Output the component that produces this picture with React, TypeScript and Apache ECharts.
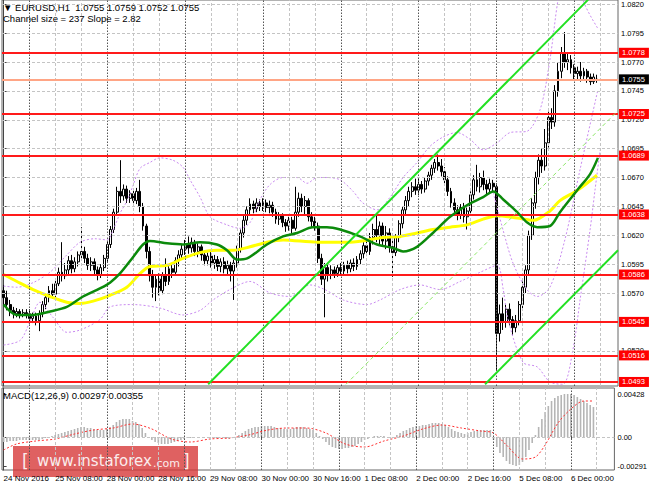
import React, { useEffect, useRef } from "react";
import * as echarts from "echarts";

const FONT = "'Liberation Sans', Arial, sans-serif";
const SLOT_COUNT = 190;
const Y_MIN = 1.04895;
const Y_MAX = 1.08237;
const MACD_MIN = -0.0033;
const MACD_MAX = 0.0049;

// [open, close, low, high] per H1 bar, 24 Nov 16:00 .. 6 Dec 07:00
const candles: number[][] = [
  [1.0572,1.0566,1.0560,1.0577],[1.0566,1.0560,1.0555,1.0572],[1.0560,1.0555,1.0550,1.0564],[1.0555,1.0552,1.0548,1.0558],
  [1.0552,1.0554,1.0549,1.0557],[1.0554,1.0551,1.0548,1.0556],[1.0551,1.0553,1.0549,1.0556],[1.0553,1.0552,1.0548,1.0556],
  [1.0552,1.0548,1.0543,1.0556],[1.0548,1.0550,1.0544,1.0553],[1.0550,1.0546,1.0542,1.0553],[1.0546,1.0552,1.0537,1.0555],
  [1.0552,1.0560,1.0549,1.0563],[1.0560,1.0566,1.0556,1.0569],[1.0566,1.0572,1.0562,1.0576],[1.0572,1.0569,1.0565,1.0578],
  [1.0569,1.0578,1.0566,1.0581],[1.0578,1.0588,1.0576,1.0592],[1.0588,1.0585,1.0580,1.0614],[1.0585,1.0590,1.0582,1.0596],
  [1.0590,1.0598,1.0586,1.0602],[1.0598,1.0591,1.0587,1.0603],[1.0591,1.0597,1.0588,1.0601],[1.0597,1.0603,1.0593,1.0606],
  [1.0603,1.0606,1.0598,1.0627],[1.0606,1.0600,1.0596,1.0610],[1.0600,1.0594,1.0590,1.0604],[1.0594,1.0597,1.0589,1.0601],
  [1.0597,1.0590,1.0586,1.0600],[1.0590,1.0586,1.0581,1.0593],[1.0586,1.0592,1.0583,1.0595],[1.0592,1.0600,1.0589,1.0603],
  [1.0600,1.0612,1.0597,1.0615],[1.0612,1.0625,1.0609,1.0628],[1.0625,1.0640,1.0622,1.0643],[1.0640,1.0658,1.0637,1.0662],
  [1.0658,1.0654,1.0648,1.0685],[1.0654,1.0660,1.0650,1.0664],[1.0660,1.0652,1.0648,1.0663],[1.0652,1.0656,1.0648,1.0659],
  [1.0656,1.0650,1.0645,1.0660],[1.0650,1.0658,1.0647,1.0661],[1.0658,1.0645,1.0640,1.0668],[1.0645,1.0628,1.0624,1.0648],
  [1.0628,1.0606,1.0600,1.0630],[1.0606,1.0585,1.0580,1.0610],[1.0585,1.0575,1.0566,1.0590],[1.0575,1.0582,1.0563,1.0586],
  [1.0582,1.0572,1.0568,1.0587],[1.0572,1.0585,1.0569,1.0588],[1.0585,1.0580,1.0576,1.0600],[1.0580,1.0591,1.0577,1.0595],
  [1.0591,1.0588,1.0583,1.0596],[1.0588,1.0598,1.0585,1.0601],[1.0598,1.0603,1.0593,1.0607],[1.0603,1.0608,1.0599,1.0612],
  [1.0608,1.0612,1.0603,1.0616],[1.0612,1.0609,1.0604,1.0619],[1.0609,1.0614,1.0605,1.0618],[1.0614,1.0606,1.0602,1.0616],
  [1.0606,1.0610,1.0601,1.0613],[1.0610,1.0603,1.0598,1.0612],[1.0603,1.0598,1.0594,1.0607],[1.0598,1.0602,1.0594,1.0605],
  [1.0602,1.0596,1.0592,1.0606],[1.0596,1.0599,1.0591,1.0603],[1.0599,1.0593,1.0589,1.0602],[1.0593,1.0597,1.0588,1.0600],
  [1.0597,1.0591,1.0587,1.0601],[1.0591,1.0594,1.0585,1.0598],[1.0594,1.0589,1.0580,1.0597],[1.0589,1.0596,1.0564,1.0599],
  [1.0596,1.0608,1.0592,1.0611],[1.0608,1.0622,1.0605,1.0625],[1.0622,1.0633,1.0618,1.0637],[1.0633,1.0642,1.0629,1.0645],
  [1.0642,1.0647,1.0638,1.0652],[1.0647,1.0643,1.0639,1.0650],[1.0643,1.0648,1.0640,1.0652],[1.0648,1.0645,1.0641,1.0651],
  [1.0645,1.0648,1.0641,1.0652],[1.0648,1.0644,1.0640,1.0651],[1.0644,1.0646,1.0639,1.0650],[1.0646,1.0640,1.0636,1.0649],
  [1.0640,1.0634,1.0630,1.0643],[1.0634,1.0637,1.0629,1.0640],[1.0637,1.0631,1.0627,1.0639],[1.0631,1.0628,1.0623,1.0634],
  [1.0628,1.0633,1.0624,1.0636],[1.0633,1.0626,1.0622,1.0636],[1.0626,1.0640,1.0624,1.0662],[1.0640,1.0652,1.0636,1.0657],
  [1.0652,1.0645,1.0640,1.0656],[1.0645,1.0650,1.0638,1.0654],[1.0650,1.0636,1.0632,1.0652],[1.0636,1.0632,1.0627,1.0640],
  [1.0632,1.0628,1.0624,1.0636],[1.0628,1.0600,1.0596,1.0631],[1.0600,1.0582,1.0577,1.0604],[1.0582,1.0592,1.0549,1.0596],
  [1.0592,1.0586,1.0580,1.0595],[1.0586,1.0590,1.0582,1.0594],[1.0590,1.0587,1.0583,1.0593],[1.0587,1.0592,1.0584,1.0595],
  [1.0592,1.0589,1.0585,1.0596],[1.0589,1.0594,1.0586,1.0597],[1.0594,1.0591,1.0587,1.0598],[1.0591,1.0596,1.0588,1.0599],
  [1.0596,1.0593,1.0589,1.0600],[1.0593,1.0599,1.0590,1.0602],[1.0599,1.0604,1.0595,1.0607],[1.0604,1.0611,1.0600,1.0614],
  [1.0611,1.0606,1.0602,1.0617],[1.0606,1.0618,1.0603,1.0622],[1.0618,1.0625,1.0612,1.0630],[1.0625,1.0620,1.0614,1.0638],
  [1.0620,1.0628,1.0611,1.0632],[1.0628,1.0615,1.0610,1.0631],[1.0615,1.0622,1.0608,1.0628],[1.0622,1.0610,1.0605,1.0626],
  [1.0610,1.0605,1.0584,1.0616],[1.0605,1.0618,1.0602,1.0621],[1.0618,1.0630,1.0614,1.0633],[1.0630,1.0642,1.0626,1.0645],
  [1.0642,1.0650,1.0637,1.0654],[1.0650,1.0658,1.0645,1.0662],[1.0658,1.0662,1.0653,1.0666],[1.0662,1.0659,1.0655,1.0669],
  [1.0659,1.0664,1.0655,1.0669],[1.0664,1.0660,1.0656,1.0667],[1.0660,1.0667,1.0657,1.0670],[1.0667,1.0672,1.0663,1.0675],
  [1.0672,1.0678,1.0668,1.0681],[1.0678,1.0683,1.0674,1.0686],[1.0683,1.0680,1.0676,1.0690],[1.0680,1.0675,1.0671,1.0686],
  [1.0675,1.0668,1.0664,1.0679],[1.0668,1.0658,1.0654,1.0671],[1.0658,1.0648,1.0644,1.0661],[1.0648,1.0642,1.0637,1.0652],
  [1.0642,1.0638,1.0633,1.0646],[1.0638,1.0644,1.0634,1.0647],[1.0644,1.0636,1.0631,1.0648],[1.0636,1.0641,1.0625,1.0644],
  [1.0641,1.0655,1.0638,1.0658],[1.0655,1.0668,1.0651,1.0672],[1.0668,1.0662,1.0658,1.0681],[1.0662,1.0670,1.0657,1.0674],
  [1.0670,1.0664,1.0659,1.0676],[1.0664,1.0660,1.0655,1.0668],[1.0660,1.0665,1.0656,1.0669],[1.0665,1.0662,1.0658,1.0668],
  [1.0662,1.0535,1.0503,1.0665],[1.0535,1.0552,1.0528,1.0560],[1.0552,1.0545,1.0538,1.0566],[1.0545,1.0556,1.0540,1.0560],
  [1.0556,1.0547,1.0542,1.0561],[1.0547,1.0540,1.0533,1.0550],[1.0540,1.0546,1.0536,1.0551],[1.0546,1.0560,1.0542,1.0563],
  [1.0560,1.0575,1.0556,1.0580],[1.0575,1.0590,1.0570,1.0594],[1.0590,1.0620,1.0586,1.0624],[1.0620,1.0648,1.0616,1.0652],
  [1.0648,1.0670,1.0643,1.0675],[1.0670,1.0685,1.0664,1.0690],[1.0685,1.0680,1.0674,1.0695],[1.0680,1.0700,1.0676,1.0712],
  [1.0700,1.0722,1.0696,1.0727],[1.0722,1.0718,1.0712,1.0730],[1.0718,1.0745,1.0714,1.0750],[1.0745,1.0762,1.0740,1.0770],
  [1.0762,1.0778,1.0756,1.0783],[1.0778,1.0770,1.0765,1.0796],[1.0770,1.0772,1.0763,1.0777],[1.0772,1.0765,1.0760,1.0776],
  [1.0765,1.0760,1.0755,1.0768],[1.0760,1.0762,1.0754,1.0766],[1.0762,1.0758,1.0753,1.0770],[1.0758,1.0762,1.0754,1.0765],
  [1.0762,1.0757,1.0752,1.0764],[1.0757,1.0753,1.0750,1.0760],[1.0753,1.0757,1.0751,1.0760],[1.0755,1.0755,1.0752,1.0759],
];

// [bar index, price]
const greenMA = [[0,1.0560],[4,1.0551],[9,1.0551],[14.3,1.0554],[19.5,1.0558],[24.5,1.0567],[29.7,1.0574],[32.8,1.0579],[35.9,1.0587],[39.9,1.0601],[43,1.0612],[45.1,1.0615],[50.4,1.0613],[55.3,1.0612],[60.6,1.0614],[65.8,1.0612],[68.9,1.0607],[72,1.0599],[75.1,1.0600],[81.2,1.0612],[86.2,1.0619],[90.5,1.0622],[95.4,1.0627],[99.7,1.0627],[103.8,1.0625],[109.9,1.0619],[115.2,1.0612],[120.1,1.0609],[123.2,1.0606],[127.5,1.0610],[132.4,1.0622],[137.7,1.0636],[142.9,1.0646],[147.9,1.0653],[151,1.0658],[154.1,1.0651],[158.4,1.0640],[161.5,1.0631],[164.6,1.0627],[168.5,1.0628],[171.6,1.0640],[177.2,1.0660],[180.9,1.0673],[183.3,1.0687]];
const yellowMA = [[0,1.0586],[4.1,1.0580],[9.1,1.0573],[14.3,1.0567],[19.5,1.0562],[23.6,1.0561],[27.6,1.0563],[32.8,1.0568],[38,1.0575],[42.1,1.0587],[45.1,1.0593],[50.4,1.0594],[55.3,1.0600],[60.6,1.0605],[65.8,1.0607],[70.8,1.0607],[76,1.0610],[81.2,1.0614],[86.2,1.0616],[96.7,1.0614],[106.8,1.0614],[117,1.0618],[122.3,1.0619],[127.5,1.0622],[132.4,1.0625],[137.7,1.0627],[142.9,1.0629],[147.9,1.0634],[152.2,1.0637],[158.4,1.0635],[163.4,1.0633],[168.5,1.0641],[171.6,1.0650],[177,1.0659],[183,1.0672]];
const bandUpper = [[0,1.0576],[4.1,1.0575],[9.1,1.0579],[14.3,1.0588],[19.5,1.0603],[23.6,1.0614],[28.2,1.0617],[31.9,1.0616],[33.7,1.0624],[35.9,1.0639],[38.1,1.0650],[39.9,1.0663],[42.1,1.0678],[45.1,1.0683],[48.2,1.0687],[52.2,1.0685],[55.3,1.0679],[57.5,1.0668],[60.6,1.0653],[63.7,1.0636],[68.9,1.0629],[72.9,1.0626],[76,1.0631],[79.1,1.0651],[82.2,1.0664],[86.2,1.0670],[90.5,1.0670],[93.6,1.0665],[96.7,1.0670],[99.7,1.0670],[103.8,1.0668],[107.8,1.0658],[110.8,1.0648],[115.2,1.0642],[119.2,1.0653],[123.2,1.0670],[127.5,1.0683],[131.5,1.0697],[135.5,1.0705],[139.8,1.0709],[143.9,1.0703],[147.9,1.0694],[152.2,1.0700],[156.3,1.0709],[161.4,1.0710],[165.5,1.0729],[168.5,1.0772],[171,1.0824],[173.5,1.0858],[176.6,1.0867],[178.7,1.0824],[183.3,1.0799]];
const bandLower = [[0,1.0525],[5.1,1.0529],[8.1,1.0545],[11.2,1.0562],[15.2,1.0549],[19.5,1.0536],[23.6,1.0538],[29.7,1.0547],[32.8,1.0558],[39.9,1.0560],[48.2,1.0557],[55.3,1.0551],[60.6,1.0555],[64.6,1.0564],[69.8,1.0573],[76,1.0580],[82.2,1.0570],[88.3,1.0567],[94.5,1.0577],[99.1,1.0573],[104.7,1.0564],[112.1,1.0560],[116.1,1.0564],[122.3,1.0573],[128.4,1.0577],[134.6,1.0573],[140.8,1.0580],[147,1.0588],[152.2,1.0594],[154.1,1.0573],[155.6,1.0547],[160.2,1.0510],[164.6,1.0506],[168.5,1.0493],[172.5,1.0491],[175.6,1.0521],[177.8,1.0564],[180.9,1.0625],[182.4,1.0659],[184,1.0694]];
const bandInner = [[151,1.0657],[154.1,1.0624],[157.1,1.0596],[161.4,1.0573],[164.6,1.0567],[168.5,1.0575],[173.1,1.0616],[177.8,1.0677],[183.3,1.0746]];

// regression channel (upper, centre, lower)
const channelUpper = [[63.1,1.0491],[180.3,1.0824]];
const channelMid = [[105.6,1.0491],[189.5,1.0728]];
const channelLower = [[148.5,1.0491],[189.5,1.0607]];

const levels = [1.0778, 1.0725, 1.0689, 1.0638, 1.0586, 1.0545, 1.0516, 1.0493];
const lastPrice = 1.0755;
const priceTicks = [1.0820, 1.0795, 1.0770, 1.0745, 1.0720, 1.0695, 1.0670, 1.0645, 1.0620, 1.0595, 1.0570, 1.0545, 1.0520];
const priceLabelTicks = [1.0820, 1.0795, 1.0770, 1.0745, 1.0720, 1.0695, 1.0670, 1.0645, 1.0620, 1.0595, 1.0570, 1.0520];

// MACD main (histogram) in units of 0.0001, one per bar
const macdHist = [
  -5,-5,-4,-4,-4,-3,-3,-3, -3,-3,-3,-3,-2,-1,0,1, 2,3,4,5,6,7,8,9, 10,10,9,9,8,7,7,7,
  8,10,12,15,17,18,18,18, 16,15,13,9,4,0,-3,-5, -6,-7,-7,-7,-6,-5,-4,-3, -2,-1,-1,0,0,0,0,0,
  0,0,-1,-1,-1,-1,-2,-1, 0,2,4,6,8,9,10,10, 11,11,11,11,10,9,9,8, 8,8,9,10,10,10,9,8,
  7,4,1,-2,-5,-8,-10,-11, -12,-12,-11,-11,-10,-9,-7,-5, -3,-2,0,1,1,1,1,0, -1,0,2,4,6,7,9,10,
  11,11,12,12,13,14,14,14, 13,12,10,8,6,5,4,3, 4,5,6,6,7,7,7,7, -3,-10,-16,-20,-24,-27,-28,-29,
  -28,-25,-20,-13,-6,2,10,18, 25,31,36,39,41,42,43,43, 43,42,40,38,36,34,32,30,
];
// MACD signal in units of 0.0001: [bar index, value]
const macdSignal = [[0,-13],[4,-7],[10,-4],[16,-2],[22,3],[28,7],[34,9],[40,13],[46,8],[52,-2],[58,-5],[64,-2],[70,-1],[76,2],[82,7],[88,9],[94,9],[100,4],[106,-7],[112,-10],[118,-4],[124,1],[130,8],[136,12],[142,9],[148,6],[152,4],[156,-8],[161,-22],[165,-20],[168,-8],[172,14],[176,28],[180,36],[183,36]];
const macdTicks = [0.00428, 0, -0.00291];

const xTickIdx = [0, 16, 32, 48, 64, 80, 96, 112, 128, 144, 160, 176];
const xTickText = ["24 Nov 2016", "25 Nov 08:00", "28 Nov 00:00", "28 Nov 16:00", "29 Nov 08:00", "30 Nov 00:00", "30 Nov 16:00", "1 Dec 08:00", "2 Dec 00:00", "2 Dec 16:00", "5 Dec 08:00", "6 Dec 00:00"];
const gridIdx = [16, 24, 40, 48, 64, 72, 88, 96, 112, 120, 136, 144, 160, 168, 184];
const daySepIdx = [8, 32, 56, 80, 104, 128, 152, 176];

export default function App() {
  const ref = useRef<HTMLDivElement>(null);
  useEffect(() => {
    if (!ref.current) return;
    const chart = echarts.init(ref.current, undefined, { renderer: "svg" });
    const cats = Array.from({ length: SLOT_COUNT }, (_, i) => String(i));
    const tickSet = new Set([...gridIdx, ...daySepIdx]);
    const vGrid = (xi: number, yi: number) => ({
      type: "line", xAxisIndex: xi, yAxisIndex: yi, data: [], silent: true, z: 1,
      markLine: {
        silent: true, symbol: ["none", "none"], label: { show: false }, precision: 6,
        data: [
          ...gridIdx.map((v) => ({ xAxis: v, lineStyle: { color: "#c4c4c4", type: [3, 2], width: 1 } })),
          ...daySepIdx.map((v) => ({ xAxis: v, lineStyle: { color: "#555", type: [1.5, 1.5], width: 1 } })),
        ],
      },
    });
    const lineS = (data: number[][], color: string, width: number, type: any = "solid", z = 3, smooth: any = 0.3) => ({
      type: "line", xAxisIndex: 1, yAxisIndex: 0, data, showSymbol: false, smooth, silent: true, z,
      lineStyle: { color, width, type }, clip: true,
    });
    const redLabel = (bg: string) => ({
      show: true, position: "end", distance: 1, fontSize: 7.5, fontFamily: FONT, color: "#fff",
      backgroundColor: bg, padding: [1, 4, 1, 3], formatter: (p: any) => Number(p.value).toFixed(4),
    });
    const option: any = {
      animation: false,
      backgroundColor: "#fff",
      textStyle: { fontFamily: FONT },
      grid: [
        { left: 2, top: 0, width: 616, height: 386, show: true, borderColor: "#666", borderWidth: 1 },
        { left: 2, top: 388, width: 616, height: 82, show: true, borderColor: "#666", borderWidth: 1 },
      ],
      xAxis: [
        { type: "category", gridIndex: 0, data: cats, show: false, boundaryGap: true },
        { type: "value", gridIndex: 0, min: -0.5, max: SLOT_COUNT - 0.5, show: false },
        {
          type: "category", gridIndex: 1, data: cats, boundaryGap: true,
          axisLine: { show: false },
          axisTick: { show: true, alignWithLabel: true, length: 3, interval: (i: number) => tickSet.has(i), lineStyle: { color: "#444" } },
          axisLabel: {
            interval: (i: number) => xTickIdx.includes(i),
            formatter: (_v: string, i: number) => xTickText[xTickIdx.indexOf(i)] ?? "",
            align: "left", fontSize: 8, color: "#000", margin: 4, fontFamily: FONT,
            hideOverlap: false, showMinLabel: true,
          },
          splitLine: { show: false },
        },
        { type: "value", gridIndex: 1, min: -0.5, max: SLOT_COUNT - 0.5, show: false },
      ],
      yAxis: [
        {
          type: "value", gridIndex: 0, position: "right", min: Y_MIN, max: Y_MAX,
          splitLine: { show: false },
          axisLine: { show: true, lineStyle: { color: "#444" } },
          axisTick: { show: true, length: 3, customValues: priceTicks, lineStyle: { color: "#444" } },
          axisLabel: { customValues: priceLabelTicks, formatter: (v: number) => v.toFixed(4), fontSize: 7.5, color: "#000", margin: 3, fontFamily: FONT },
        },
        {
          type: "value", gridIndex: 1, position: "right", min: MACD_MIN, max: MACD_MAX,
          splitLine: { show: false },
          axisLine: { show: true, lineStyle: { color: "#444" } },
          axisTick: { show: true, length: 3, customValues: macdTicks, lineStyle: { color: "#444" } },
          axisLabel: { customValues: macdTicks, formatter: (v: number) => (v === 0 ? "0.00" : v.toFixed(5)), fontSize: 7.5, color: "#000", margin: 3, fontFamily: FONT },
        },
      ],
      series: [
        vGrid(1, 0),
        {
          type: "line", xAxisIndex: 1, yAxisIndex: 0, data: [], silent: true, z: 1,
          markLine: {
            silent: true, symbol: ["none", "none"], label: { show: false }, precision: 6,
            lineStyle: { color: "#c4c4c4", type: [3, 2], width: 1 },
            data: priceTicks.map((v) => ({ yAxis: v })),
          },
        },
        {
          type: "candlestick", xAxisIndex: 0, yAxisIndex: 0, data: candles, barWidth: 2.4, z: 2, silent: true,
          itemStyle: { color: "#ffffff", color0: "#000000", borderColor: "#000000", borderColor0: "#000000", borderWidth: 1 },
        },
        lineS(bandUpper, "#c98af0", 1, [2, 2]),
        lineS(bandLower, "#c98af0", 1, [2, 2]),
        lineS(bandInner, "#c98af0", 1, [2, 2]),
        lineS(yellowMA, "#ffff00", 3, "solid", 4),
        lineS(greenMA, "#0b8a0b", 2.5, "solid", 5),
        lineS(channelUpper, "#22e022", 2, "solid", 5, false),
        lineS(channelLower, "#22e022", 2, "solid", 5, false),
        lineS(channelMid, "#8fe86a", 1, [4, 3], 5, false),
        {
          type: "line", xAxisIndex: 1, yAxisIndex: 0, data: [], silent: true, z: 6,
          markLine: {
            silent: true, symbol: ["none", "none"], precision: 6,
            data: [
              { yAxis: lastPrice, lineStyle: { color: "#ffa585", width: 2, type: "solid" }, label: redLabel("#000000") },
              ...levels.map((v) => ({ yAxis: v, lineStyle: { color: "#ff1a1a", width: 2, type: "solid" }, label: redLabel("#ff0000") })),
            ],
          },
        },
        vGrid(3, 1),
        {
          type: "line", xAxisIndex: 3, yAxisIndex: 1, data: [], silent: true, z: 1,
          markLine: {
            silent: true, symbol: ["none", "none"], label: { show: false }, precision: 6,
            lineStyle: { color: "#c4c4c4", type: [3, 2], width: 1 },
            data: [{ yAxis: 0 }],
          },
        },
        {
          type: "bar", xAxisIndex: 2, yAxisIndex: 1, data: macdHist.map((v) => v * 0.0001), barWidth: 1.6, silent: true, z: 2,
          itemStyle: { color: "#b5b5b5" },
        },
        {
          type: "line", xAxisIndex: 3, yAxisIndex: 1, data: macdSignal.map(([i, v]) => [i, v * 0.0001]), showSymbol: false,
          smooth: 0.3, silent: true, z: 3, lineStyle: { color: "#ff3030", width: 1, type: [2, 2] },
        },
      ],
      graphic: [
        { type: "text", left: 3, top: 2, z: 50, style: { text: "▼ EURUSD,H1  1.0755 1.0759 1.0752 1.0755", fontSize: 9.5, fontFamily: FONT, fill: "#000" } },
        { type: "text", left: 3, top: 13.5, z: 50, style: { text: "Channel size = 237 Slope = 2.82", fontSize: 9.5, fontFamily: FONT, fill: "#000" } },
        { type: "text", left: 3, top: 390, z: 50, style: { text: "MACD(12,26,9) 0.00297 0.00355", fontSize: 9.5, fontFamily: FONT, fill: "#000" } },
        {
          type: "group", left: 13, top: 446, z: 100,
          children: [
            { type: "rect", shape: { x: 0, y: 0, width: 185, height: 31 }, style: { fill: "rgba(214, 52, 52, 0.78)" } },
            { type: "text", x: 9, y: 15, style: { text: "[", fontSize: 17, fontFamily: "'DejaVu Sans', sans-serif", fill: "#fbecec", verticalAlign: "middle" } },
            { type: "text", x: 24, y: 15, style: { text: "www.instaforex", fontSize: 15, fontFamily: "'DejaVu Sans', sans-serif", fill: "#fbecec", verticalAlign: "middle" } },
            { type: "text", x: 140, y: 17, style: { text: ".com", fontSize: 11, fontFamily: "'DejaVu Sans', sans-serif", fill: "#fbecec", verticalAlign: "middle" } },
            { type: "text", x: 170, y: 15, style: { text: "]", fontSize: 17, fontFamily: "'DejaVu Sans', sans-serif", fill: "#fbecec", verticalAlign: "middle" } },
          ],
        },
      ],
    };
    chart.setOption(option);
    return () => chart.dispose();
  }, []);
  return <div ref={ref} style={{ position: "fixed", left: 0, top: 0, width: 650, height: 488, background: "#fff" }} />;
}
